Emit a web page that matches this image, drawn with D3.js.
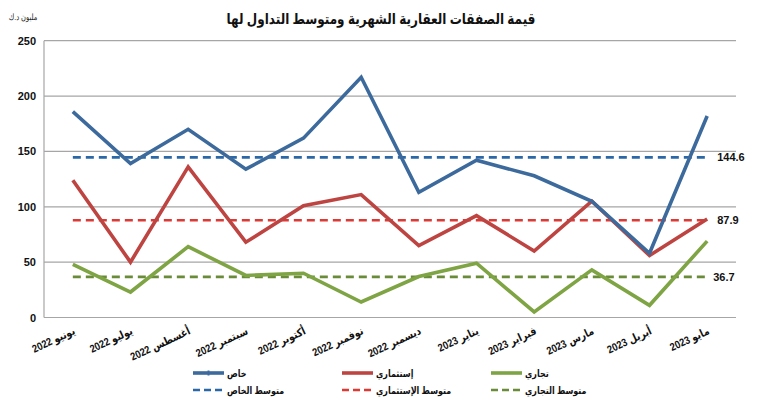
<!DOCTYPE html>
<html><head><meta charset="utf-8">
<script src="https://cdn.jsdelivr.net/npm/d3@7"></script>
<style>
body{margin:0;background:#fff;}
svg text{font-family:Arial,"Liberation Sans","DejaVu Sans",sans-serif;}
</style></head>
<body><svg id="c" width="770" height="409"></svg>
<script>
const months = ["يونيو 2022","يوليو 2022","أغسطس 2022","سبتمبر 2022","أكتوبر 2022","نوفمبر 2022","ديسمبر 2022","يناير 2023","فبراير 2023","مارس 2023","أبريل 2023","مايو 2023"];
const privateVals = [186,139,170,134,162,217,113,142,128,105,58,182];
const investVals  = [124,50,136,68,101,111,65,92,60,105,56,89];
const commercialVals = [48,23,64,38,40,14,37,49,5,43,11,69];
const averages = [144.6, 87.9, 36.7];
const seriesNames = ["خاص","إستثماري","تجاري"];
const avgNames = ["متوسط الخاص","متوسط الإستثماري","متوسط التجاري"];
const yTicks = [0,50,100,150,200,250];
const title = "قيمة الصفقات العقارية الشهرية ومتوسط التداول لها";
const unit = "مليون د.ك";

const lineColors = ["#3c6a9c","#be4441","#7ea443"];
const dashColors = ["#2a68a8","#dd3a35","#6a8c38"];

const svg = d3.select("#c");
const L=44, R=736, T=40.7, B=317.5;
const x = d3.scaleBand().domain(months).range([L,R]);
const y = d3.scaleLinear().domain([0,250]).range([B,T]);
const cx = d => x(d)+x.bandwidth()/2;

// title
svg.append("text").attr("transform","translate(381,24) scale(0.8,1)").attr("text-anchor","middle")
  .attr("font-size",15).attr("font-weight","bold").attr("fill","#111").text(title);
svg.append("text").attr("transform","translate(23,20) scale(0.75,1)").attr("text-anchor","middle")
  .attr("font-size",9).attr("fill","#222").text(unit);

// grid
svg.append("g").selectAll("line").data(yTicks.filter(d=>d>0)).join("line")
  .attr("x1",L).attr("x2",R).attr("y1",d=>y(d)).attr("y2",d=>y(d))
  .attr("stroke","#a6a6a6").attr("stroke-width",1.2);
svg.append("line").attr("x1",L).attr("x2",R).attr("y1",B).attr("y2",B).attr("stroke","#a6a6a6").attr("stroke-width",1.2);
svg.append("line").attr("x1",L).attr("x2",L).attr("y1",T).attr("y2",B).attr("stroke","#a6a6a6").attr("stroke-width",1.2);

// y labels
svg.append("g").selectAll("text").data(yTicks).join("text")
  .attr("x",36).attr("y",d=>y(d)+4).attr("text-anchor","end")
  .attr("font-size",11).attr("font-weight","bold").attr("fill","#111").text(d=>d);

// x labels
svg.append("g").selectAll("text").data(months).join("text")
  .attr("transform",d=>`translate(${cx(d)+3},${B+16}) rotate(-25) scale(0.85,1)`)
  .attr("text-anchor","end").attr("font-size",11).attr("font-weight","bold").attr("fill","#111")
  .text(d=>d);

// average lines
const x0 = cx(months[0]), x1 = cx(months[months.length-1]);
averages.forEach((a,i)=>{
  svg.append("line").attr("x1",x0).attr("x2",x1).attr("y1",y(a)).attr("y2",y(a))
    .attr("stroke",dashColors[i]).attr("stroke-width",2.6).attr("stroke-dasharray","8,5");
  svg.append("text").attr("x",x1+(i==2?6:10)).attr("y",y(a)+4).attr("font-size",11)
    .attr("font-weight","bold").attr("fill","#111").text(a.toFixed(1));
});

// series lines
const all = [privateVals, investVals, commercialVals];
const line = d3.line().x((d,i)=>cx(months[i])).y(d=>y(d));
[2,1,0].forEach(i=>{
  svg.append("path").datum(all[i]).attr("d",line).attr("fill","none")
    .attr("stroke",lineColors[i]).attr("stroke-width",3.6).attr("stroke-linejoin","miter");
});

// legend
const lx=[193,342,491], ly=[373,390];
seriesNames.forEach((n,i)=>{
  svg.append("line").attr("x1",lx[i]).attr("x2",lx[i]+31).attr("y1",ly[0]).attr("y2",ly[0])
    .attr("stroke",lineColors[i]).attr("stroke-width",3.6);
  if(i==0) svg.append("rect").attr("x",lx[i]+14.5).attr("y",ly[0]-2.5).attr("width",2).attr("height",5).attr("fill",lineColors[i]);
  svg.append("text").attr("transform",`translate(${lx[i]+34},${ly[0]+4}) scale(0.8,1)`).attr("font-size",10).attr("font-weight","bold")
    .attr("fill","#111").text(n);
});
avgNames.forEach((n,i)=>{
  svg.append("line").attr("x1",lx[i]).attr("x2",lx[i]+31).attr("y1",ly[1]).attr("y2",ly[1])
    .attr("stroke",dashColors[i]).attr("stroke-width",2.6).attr("stroke-dasharray","7,4");
  svg.append("text").attr("transform",`translate(${lx[i]+34},${ly[1]+4}) scale(0.8,1)`).attr("font-size",10).attr("font-weight","bold")
    .attr("fill","#111").text(n);
});
</script></body></html>
